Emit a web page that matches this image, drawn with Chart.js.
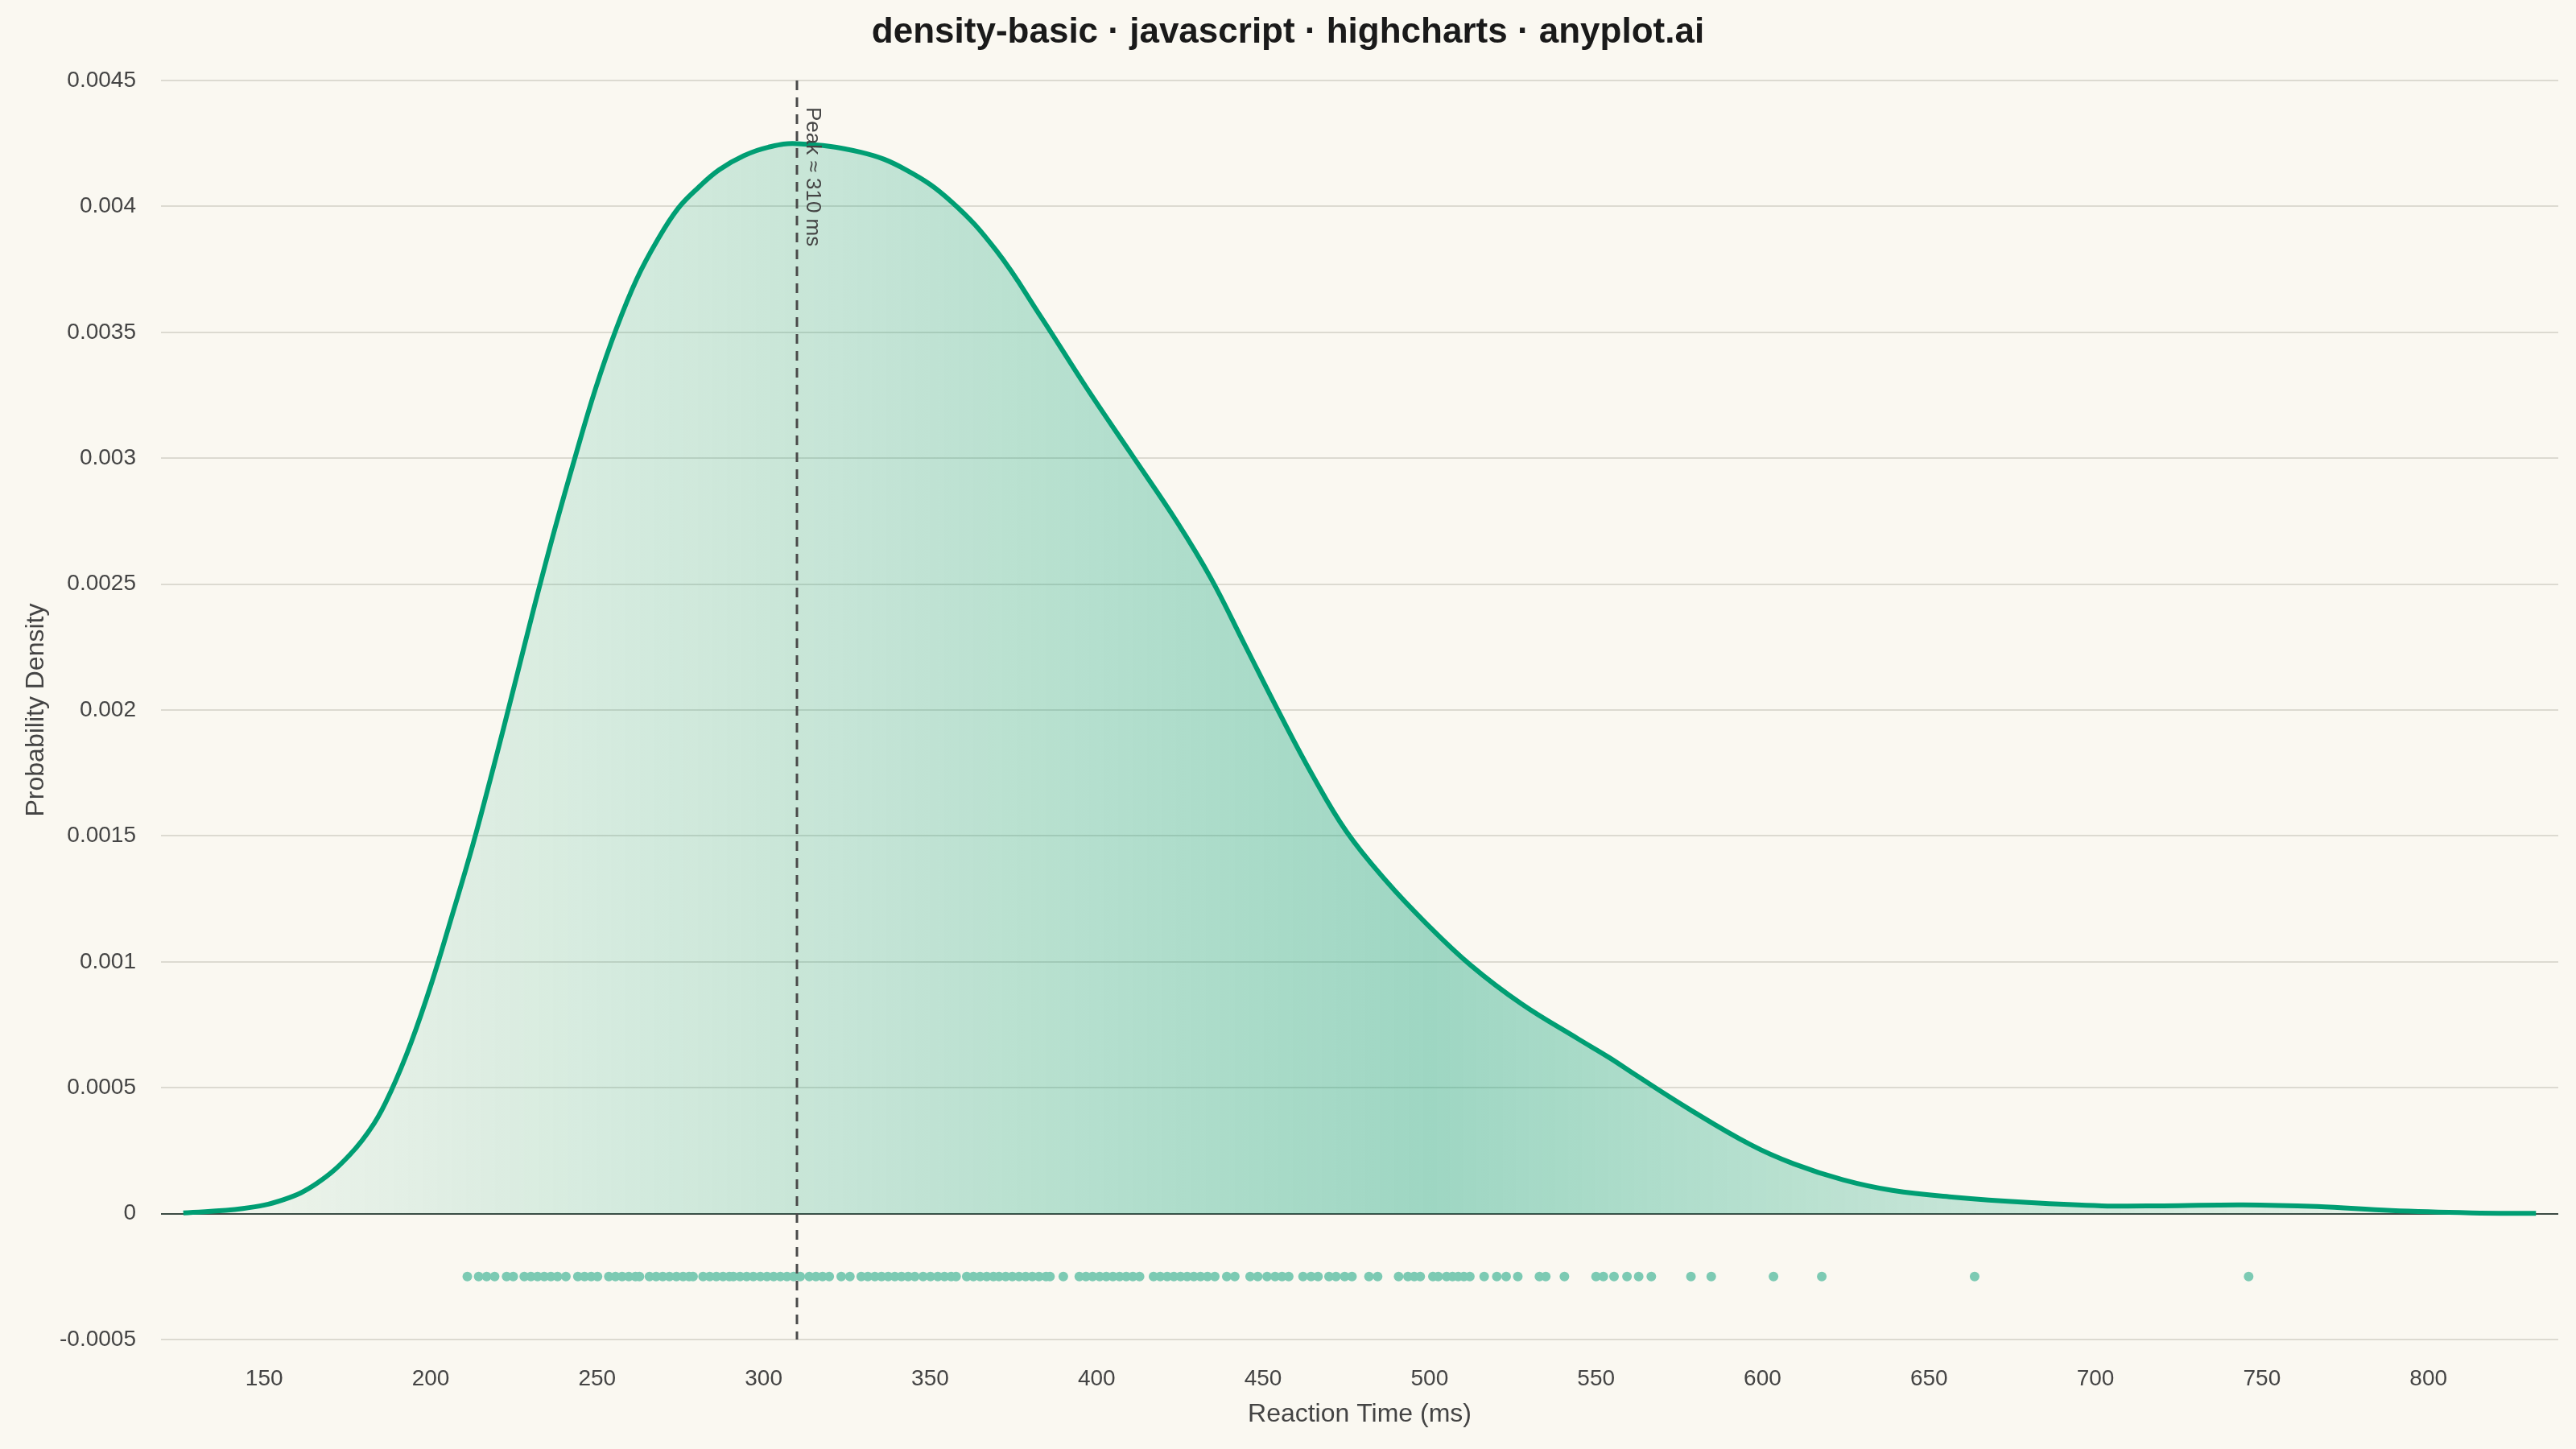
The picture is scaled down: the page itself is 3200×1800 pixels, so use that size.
<!DOCTYPE html>
<html>
<head>
<meta charset="utf-8">
<script src="https://cdn.jsdelivr.net/npm/chart.js@4.4.1/dist/chart.umd.min.js"></script>
<style>
html,body{margin:0;padding:0;background:#FAF8F1;}
canvas{display:block;}
</style>
</head>
<body>
<canvas id="c" width="3200" height="1800" style="width:3200px;height:1800px"></canvas>
<script>
// ---- data ----
const kdeX = [125.7,143.6,155.9,165.8,175.6,183.0,188.0,194.1,200.3,206.4,212.6,218.8,225.0,231.1,237.3,243.5,249.6,255.8,261.9,268.1,274.3,280.4,286.6,294.0,301.4,310.0,
  329.2,342.8,356.3,369.9,383.4,397.0,410.6,424.1,434.3,444.5,454.7,464.8,475.0,486.9,498.8,512.3,527.6,544.6,553.9,561.5,578.1,596.5,
  609.3,624.2,639.0,657.5,679.7,701.9,720.4,744.4,766.6,788.8,812.9,832.3];
const kdeY = [0.000003,0.00002,0.000056,0.00012,0.000232,0.000358,0.000484,0.000679,0.000917,0.001183,0.001462,0.00177,0.00209,0.00241,0.00272,0.00301,0.00328,0.003516,0.003712,0.003866,0.003992,0.004075,0.004145,0.004201,0.004235,0.004249,
  0.004215,0.004145,0.00402,0.003824,0.003559,0.003279,0.003013,0.002748,0.002524,0.002259,0.001993,0.001742,0.001518,0.001322,0.001155,0.000987,0.000833,0.000694,0.00062,0.000554,0.000414,0.000273,
  0.000198,0.000134,0.000092,0.000065,0.000044,0.000031,0.000031,0.000035,0.000028,0.000012,0.000003,0.000001];
const rugX = [211.0,214.4,216.8,219.2,222.8,224.8,228.1,230.1,232.1,234.1,236.1,238.1,240.6,244.2,246.2,248.2,250.1,253.5,255.5,257.5,259.5,261.5,262.7,265.7,267.7,269.7,271.7,273.8,275.8,277.6,278.8,281.8,283.8,285.8,287.8,289.7,
  290.9,292.9,294.9,296.9,299.0,301.0,303.0,305.0,307.0,309.0,311.0,313.7,315.7,317.7,319.7,323.3,325.9,329.3,331.3,333.4,335.4,337.4,339.4,341.4,343.4,345.4,347.9,350.1,352.3,354.3,356.3,357.8,361.0,363.0,365.0,367.0,369.0,
  370.7,372.7,374.7,376.7,378.7,380.7,382.7,384.8,386.0,390.0,394.8,396.8,398.8,400.9,402.9,404.9,406.9,408.9,410.9,412.9,417.1,419.1,421.2,423.2,425.2,427.2,429.2,431.2,433.3,435.5,439.1,441.5,446.1,448.4,
  451.2,453.6,455.7,457.7,462.0,464.4,466.5,469.8,471.9,474.5,476.7,481.8,484.4,490.7,493.5,495.4,497.2,501.0,502.6,505.1,506.9,508.6,510.3,512.1,516.4,520.2,523.0,526.5,533.0,534.9,540.5,550.0,552.2,555.4,559.3,562.8,566.6,578.5,584.6,603.3,617.8,663.7,746.0];
const rugLevel = -0.00025;
const peakX = 310;
const peakLabel = 'Peak \u2248 310 ms';
const xTicks = [150,200,250,300,350,400,450,500,550,600,650,700,750,800];
const yTicks = [-0.0005,0,0.0005,0.001,0.0015,0.002,0.0025,0.003,0.0035,0.004,0.0045];
const yTickLabels = ['-0.0005','0','0.0005','0.001','0.0015','0.002','0.0025','0.003','0.0035','0.004','0.0045'];
const titleText = 'density-basic \u00b7 javascript \u00b7 highcharts \u00b7 anyplot.ai';
const xTitle = 'Reaction Time (ms)';
const yTitle = 'Probability Density';

// ---- styling ----
const FONT = '"Liberation Sans", Arial, sans-serif';
const GREEN = '#009E73';
const TEXT = '#444444';

const peakPlugin = {
  id: 'peakLine',
  afterDatasetsDraw(chart) {
    const {ctx, chartArea, scales} = chart;
    const x = scales.x.getPixelForValue(peakX);
    ctx.save();
    ctx.beginPath();
    ctx.setLineDash([12, 9]);
    ctx.strokeStyle = '#4a4a4a';
    ctx.lineWidth = 3;
    ctx.moveTo(x, chartArea.top);
    ctx.lineTo(x, chartArea.bottom);
    ctx.stroke();
    ctx.setLineDash([]);
    ctx.translate(x + 12, chartArea.top + 33);
    ctx.rotate(Math.PI / 2);
    ctx.font = '26px ' + FONT;
    ctx.fillStyle = TEXT;
    ctx.textBaseline = 'alphabetic';
    ctx.textAlign = 'left';
    ctx.fillText(peakLabel, 0, 0);
    ctx.restore();
  }
};

const titlePlugin = {
  id: 'pageTitle',
  afterDraw(chart) {
    const ctx = chart.ctx;
    ctx.save();
    ctx.font = 'bold 44px ' + FONT;
    ctx.fillStyle = '#1a1a1a';
    ctx.textAlign = 'center';
    ctx.textBaseline = 'alphabetic';
    ctx.fillText(titleText, chart.width / 2, 53);
    ctx.restore();
  }
};

new Chart(document.getElementById('c'), {
  type: 'line',
  data: {
    datasets: [
      {
        label: 'Density',
        data: kdeX.map((x, i) => ({x: x, y: kdeY[i]})),
        borderColor: GREEN,
        borderWidth: 6,
        pointRadius: 0,
        tension: 0.4,
        fill: 'origin',
        backgroundColor: (c) => {
          const chart = c.chart;
          const {ctx, chartArea, scales} = chart;
          if (!chartArea) return 'rgba(0,158,115,0.2)';
          const x0 = scales.x.getPixelForValue(kdeX[0]);
          const x1 = scales.x.getPixelForValue(kdeX[kdeX.length - 1]);
          const g = ctx.createLinearGradient(x0, 0, x1, 0);
          g.addColorStop(0, 'rgba(0,158,115,0.03)');
          g.addColorStop(0.53, 'rgba(0,158,115,0.37)');
          g.addColorStop(1, 'rgba(0,158,115,0.04)');
          return g;
        }
      },
      {
        label: 'Observations',
        data: rugX.map(x => ({x: x, y: rugLevel})),
        showLine: false,
        pointRadius: 6,
        pointHoverRadius: 6,
        pointBackgroundColor: '#7ccab3',
        pointBorderWidth: 0,
        borderWidth: 0
      }
    ]
  },
  options: {
    responsive: false,
    devicePixelRatio: 1,
    animation: false,
    layout: {padding: {left: 0, right: 22, top: 100, bottom: 0}},
    plugins: {
      legend: {display: false},
      tooltip: {enabled: false},
      title: {display: false}
    },
    scales: {
      x: {
        type: 'linear',
        min: 119,
        max: 839,
        afterBuildTicks: (s) => { s.ticks = xTicks.map(v => ({value: v})); },
        afterFit: (s) => { s.height = 136; },
        grid: {display: false, drawTicks: false},
        border: {display: false},
        ticks: {color: TEXT, font: {family: FONT, size: 28}, padding: 32, maxRotation: 0, autoSkip: false},
        title: {display: true, text: xTitle, color: TEXT, font: {family: FONT, size: 32}, padding: {top: 0, bottom: 23.8}}
      },
      y: {
        type: 'linear',
        min: -0.0005,
        max: 0.0045,
        afterBuildTicks: (s) => { s.ticks = yTicks.map(v => ({value: v})); },
        afterFit: (s) => { s.width = 200; },
        grid: {
          drawTicks: false,
          lineWidth: 2,
          color: (c) => (c.tick && c.tick.value === 0) ? '#3b4a43' : '#dcdad1'
        },
        border: {display: false},
        ticks: {
          color: TEXT,
          font: {family: FONT, size: 28},
          padding: 31,
          autoSkip: false,
          callback: (v, i) => yTickLabels[i]
        },
        title: {display: true, text: yTitle, color: TEXT, font: {family: FONT, size: 32}, padding: {top: 26, bottom: 0}}
      }
    }
  },
  plugins: [peakPlugin, titlePlugin]
});
</script>
</body>
</html>
